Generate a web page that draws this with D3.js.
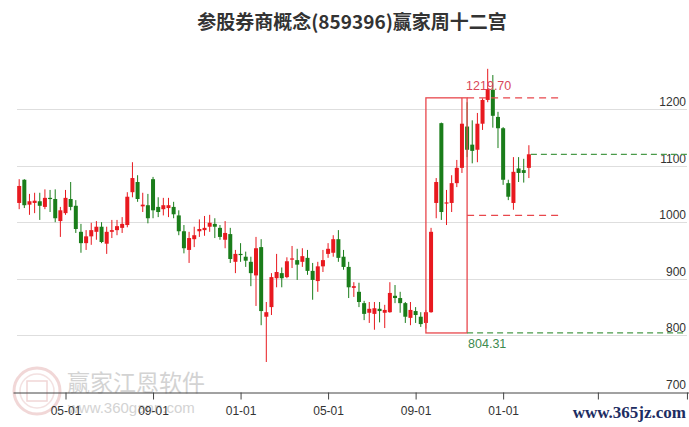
<!DOCTYPE html>
<html><head><meta charset="utf-8">
<script src="https://cdn.jsdelivr.net/npm/d3@7/dist/d3.min.js"></script>
<style>html,body{margin:0;padding:0;background:#fff;} svg{display:block;}</style>
</head><body><svg id="c" width="689" height="427"></svg>
<script>
// weekly candles (index = trading week, first week 2023-03-03)
const openV  = [1034,1075,1031,1034,1037,1027,1043,1041,1002,1016, 1041,1029,983,963,975,983,992,962,983,986,
                990,995,1053,1071,1028,1030,1076,1027,1023,1025, 1027,1012,984,951,970,984,986,992,997,990,
                969,979,930,944,939,930,906,956,833,850, 901,910,903,934,933,930,937,914,896,922,
                944,946,970,939,921,884,877,857,840,838, 847,840,841,870,866,857,831,843,833,822,
                841,1034,1175,1033,1034,1069,1096,1169,1137,1128, 1174,1216,1234,1186,1166,1069,1034,1095,1092,1096];
const highV  = [1076,1076,1050,1052,1052,1058,1057,1058,1027,1057, 1071,1039,997,986,999,1002,1000,992,1004,1004,
                1009,1053,1106,1083,1052,1050,1080,1044,1043,1043, 1036,1021,995,983,992,1005,1011,1013,1007,995,
                1002,990,951,963,948,939,974,970,859,910, 944,920,938,958,953,954,951,928,930,951,
                963,977,986,951,930,894,893,861,859,859, 859,854,894,889,877,859,859,850,841,845,
                990,1078,1176,1057,1083,1110,1219.7,1212,1180,1193, 1219,1271,1260,1195,1168,1075,1115,1115,1112,1136];
const lowV   = [1023,1025,1013,1016,1004,1023,1018,1000,974,1013, 1021,981,946,951,960,969,963,944,972,977,
                981,991,1044,1036,1018,998,1007,1009,1012,1009, 1007,977,945,928,956,974,976,983,972,969,
                954,928,910,930,921,887,852,818,753,836, 885,885,901,919,898,921,907,863,877,912,
                937,939,930,916,866,868,850,827,822,810, 823,813,840,857,840,822,818,822,815,812,
                840,1007,1004,995,1018,1062,1087,1115,1104,1106, 1163,1212,1167,1131,1066,1039,1022,1071,1070,1078];
const closeV = [1064,1030,1037,1038,1029,1043,1041,1007,1021,1043, 1027,988,963,975,986,992,965,983,986,993,
                997,1045,1078,1041,1031,1007,1021,1018,1030,1030, 1014,984,954,972,977,988,990,999,992,974,
                981,935,944,942,932,910,954,843,841,903, 912,901,931,936,925,940,914,898,922,933,
                953,970,937,921,885,887,859,838,847,848, 843,845,875,866,857,833,845,836,820,841,
                983,1071,1018,1035,1069,1096,1174,1128,1126,1174, 1216,1235,1188,1166,1075,1045,1089,1087,1087,1120];

const yTicks = [700, 800, 900, 1000, 1100, 1200];
const xTickIdx = [9, 26, 43, 60, 77, 94, 112.4, 129.7];
// the last two tick labels are hidden under the site watermark in the reference
const xTickLabels = ['05-01','09-01','01-01','05-01','09-01','01-01','',''];

const boxHigh = 1219.70, boxLow = 804.31;
const boxStart = 79, boxEnd = 87, projEnd = 105.6;

const svg = d3.select('#c');
const x = d3.scaleLinear().domain([-1.2, 130.1]).range([13, 689]);
const y = d3.scaleLinear().domain([700, 1200]).range([392, 109]);

const RED = '#e8191f', GREEN = '#1a7d1a';

// title
svg.append('text').attr('x', 352).attr('y', 29).attr('text-anchor', 'middle')
  .attr('font-family', '"Noto Sans CJK SC", sans-serif').attr('font-weight', 'bold')
  .attr('font-size', 19).attr('fill', '#333')
  .text('参股券商概念(859396)赢家周十二宫');

// watermark bottom-left
const wm = svg.append('g').attr('opacity', 0.5);
wm.append('circle').attr('cx', 37).attr('cy', 391).attr('r', 23).attr('fill', 'none').attr('stroke', '#e5b0b0').attr('stroke-width', 3);
wm.append('circle').attr('cx', 37).attr('cy', 391).attr('r', 17).attr('fill', 'none').attr('stroke', '#e8c4c4').attr('stroke-width', 1.5);
wm.append('rect').attr('x', 27).attr('y', 381).attr('width', 20).attr('height', 20).attr('fill', 'none').attr('stroke', '#e5b0b0').attr('stroke-width', 1.5);
wm.append('text').attr('x', 67).attr('y', 391).attr('font-family', '"Noto Sans CJK SC", sans-serif')
  .attr('font-size', 23).attr('fill', '#a8a8a8').text('赢家江恩软件');
wm.append('text').attr('x', 68).attr('y', 413).attr('font-family', 'Arial, "Liberation Sans", sans-serif')
  .attr('font-size', 15).attr('fill', '#a8a8a8').text('www.360gann.com');

// gridlines
svg.append('g').selectAll('line').data(yTicks.filter(v => v > 700)).join('line')
  .attr('x1', 17).attr('x2', 687)
  .attr('y1', d => Math.round(y(d)) + 0.5).attr('y2', d => Math.round(y(d)) + 0.5)
  .attr('stroke', '#dedede').attr('stroke-width', 1);

// y labels
svg.append('g').selectAll('text').data(yTicks).join('text')
  .attr('x', 686).attr('y', d => y(d) - 3).attr('text-anchor', 'end')
  .attr('font-family', 'Arial, "Liberation Sans", sans-serif').attr('font-size', 12).attr('fill', '#333')
  .text(d => d);

// x axis
const xAxis = d3.axisBottom(x).tickValues(xTickIdx).tickSize(7).tickSizeOuter(0)
  .tickFormat((d, i) => xTickLabels[i]);
const gx = svg.append('g').attr('transform', 'translate(0,' + (Math.round(y(700)) + 0.5) + ')').call(xAxis);
gx.select('.domain').attr('stroke', '#444');
gx.selectAll('.tick line').attr('stroke', '#444');
gx.selectAll('.tick text').attr('font-family', 'Arial, "Liberation Sans", sans-serif')
  .attr('font-size', 12).attr('fill', '#333').attr('dy', '1.05em');

// candles
const idx = d3.range(openV.length);
const cg = svg.append('g');
cg.selectAll('line').data(idx).join('line')
  .attr('x1', i => x(i)).attr('x2', i => x(i))
  .attr('y1', i => y(highV[i])).attr('y2', i => y(lowV[i]))
  .attr('stroke', i => closeV[i] >= openV[i] ? RED : GREEN).attr('stroke-width', 1);
cg.selectAll('rect').data(idx).join('rect')
  .attr('x', i => x(i) - 2).attr('width', 4)
  .attr('y', i => y(Math.max(openV[i], closeV[i])))
  .attr('height', i => Math.max(1.2, Math.abs(y(openV[i]) - y(closeV[i]))))
  .attr('fill', i => closeV[i] >= openV[i] ? RED : GREEN);

// box and projection lines
const BOXRED = '#e8474c', DGREEN = '#4a9a4a';
svg.append('rect').attr('x', x(boxStart)).attr('y', y(boxHigh))
  .attr('width', x(boxEnd) - x(boxStart)).attr('height', y(boxLow) - y(boxHigh))
  .attr('fill', 'none').attr('stroke', BOXRED).attr('stroke-width', 1.3);
const midV = (boxHigh + boxLow) / 2;
[boxHigh, midV].forEach(v => {
  svg.append('line').attr('x1', x(boxEnd)).attr('x2', x(projEnd)).attr('y1', y(v)).attr('y2', y(v))
    .attr('stroke', BOXRED).attr('stroke-width', 1.3).attr('stroke-dasharray', '7,5');
});
svg.append('line').attr('x1', x(boxEnd)).attr('x2', 687).attr('y1', y(boxLow)).attr('y2', y(boxLow))
  .attr('stroke', DGREEN).attr('stroke-width', 1.2).attr('stroke-dasharray', '6,4');
const lastI = closeV.length - 1;
svg.append('line').attr('x1', x(lastI) + 2).attr('x2', 687).attr('y1', y(closeV[lastI])).attr('y2', y(closeV[lastI]))
  .attr('stroke', DGREEN).attr('stroke-width', 1.2).attr('stroke-dasharray', '6,4');

svg.append('text').attr('x', x(boxEnd) - 1).attr('y', y(boxHigh) - 8)
  .attr('font-family', 'Arial, "Liberation Sans", sans-serif').attr('font-size', 12.5).attr('fill', '#d9475a')
  .text(boxHigh.toFixed(2));
svg.append('text').attr('x', x(boxEnd) + 1).attr('y', y(boxLow) + 15)
  .attr('font-family', 'Arial, "Liberation Sans", sans-serif').attr('font-size', 12.5).attr('fill', '#3d8a4f')
  .text(boxLow.toFixed(2));

// watermark bottom-right
svg.append('text').attr('x', 686).attr('y', 418).attr('text-anchor', 'end')
  .attr('font-family', '"Liberation Serif", "DejaVu Serif", serif').attr('font-weight', 'bold')
  .attr('font-size', 17).attr('fill', '#1d2d62').text('www.365jz.com');
</script></body></html>
